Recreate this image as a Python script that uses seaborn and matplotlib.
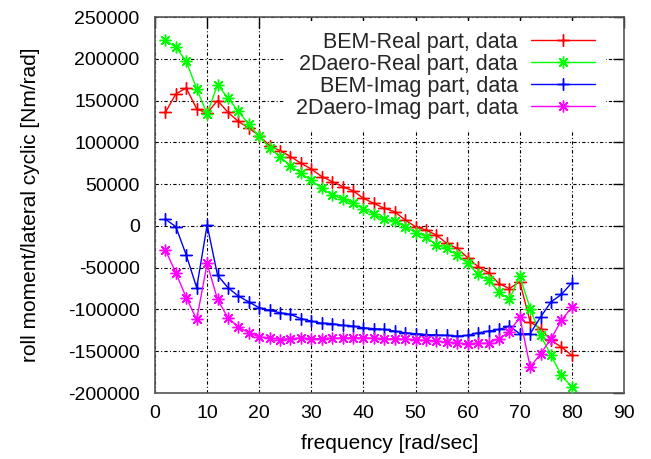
import matplotlib
matplotlib.use("Agg")
import matplotlib.pyplot as plt
import seaborn as sns
import pandas as pd

freq = [2, 4, 6, 8, 10, 12, 14, 16, 18, 20, 22, 24, 26, 28, 30, 32, 34, 36, 38, 40,
        42, 44, 46, 48, 50, 52, 54, 56, 58, 60, 62, 64, 66, 68, 70, 72, 74, 76, 78, 80]

bem_real = [136000, 158000, 165000, 140000, 135000, 150000, 136000, 125000, 117000, 108000,
            96000, 90000, 83000, 75000, 68000, 59000, 53000, 47000, 42000, 33000,
            27000, 21000, 17000, 7000, -1000, -5000, -11000, -21000, -27000, -38000,
            -49000, -56000, -69000, -75000, -67000, -115000, -123000, -137000, -145000, -155000]

aero_real = [222000, 214000, 197000, 164000, 134000, 169000, 153000, 137000, 121500, 107000,
             93500, 82500, 72000, 63000, 54500, 45000, 37000, 32500, 27000, 20500,
             14000, 8000, 6000, -1000, -8000, -13000, -23000, -27000, -35000, -45000,
             -58000, -65000, -79000, -88000, -60000, -99000, -131000, -155000, -179000, -193000]

bem_imag = [8000, -1000, -35000, -74000, 1000, -59000, -74000, -84000, -91000, -98000,
            -101000, -104000, -106000, -111000, -114000, -116500, -117000, -119000, -120000, -122000,
            -123000, -124000, -126000, -128000, -129000, -130000, -130500, -131000, -132000, -131000,
            -128000, -126000, -124000, -120000, -129000, -129000, -109000, -91000, -82000, -68000]

aero_imag = [-29000, -56000, -86000, -112000, -45000, -88000, -110000, -121000, -128000, -133000,
             -134000, -136000, -135000, -134000, -135000, -135000, -134500, -134000, -134000, -134000,
             -134500, -135000, -135000, -135500, -136000, -137000, -138000, -139000, -140500, -141000,
             -140500, -140500, -135000, -127000, -109000, -169000, -153000, -135000, -113000, -97000]

labels = ["BEM-Real part, data", "2Daero-Real part, data",
          "BEM-Imag part, data", "2Daero-Imag part, data"]
series = [bem_real, aero_real, bem_imag, aero_imag]
colors = ["#ff0000", "#00ff00", "#0000ff", "#ff00ff"]
markers = [(4, 2, 0), (8, 2, 0), (4, 2, 0), (8, 2, 0)]

xticks = [0, 10, 20, 30, 40, 50, 60, 70, 80, 90]
yticks = [-200000, -150000, -100000, -50000, 0, 50000, 100000, 150000, 200000, 250000]

sns.set_theme(style="white")
plt.rcParams['font.family'] = ['Liberation Sans', 'DejaVu Sans']

fig = plt.figure(figsize=(6.51, 4.59), dpi=100)
ax = fig.add_axes([155 / 651, 1 - 393 / 459, (624 - 155) / 651, (393 - 17) / 459])

for vals, lab, col, mk in zip(series, labels, colors, markers):
    df = pd.DataFrame({"freq": freq, "value": vals})
    sns.lineplot(data=df, x="freq", y="value", ax=ax, color=col, marker=mk,
                 markersize=8.5, markeredgewidth=1.0, markeredgecolor=col,
                 linewidth=1.0, label=lab, zorder=3)

ax.set_xlim(0, 90)
ax.set_ylim(-200000, 250000)
ax.set_xticks(xticks)
ax.set_yticks(yticks)
ax.set_xticklabels([str(t) for t in xticks])
ax.set_yticklabels([str(t) for t in yticks])
ax.tick_params(direction="in", length=8, width=1, top=True, right=True,
               labelsize=14, pad=9, colors="black")
ax.tick_params(axis="y", pad=11)

ax.grid(True, color="black", linestyle=(0, (3, 2, 1, 2)), linewidth=0.8, zorder=0)
ax.set_axisbelow(True)
for sp in ax.spines.values():
    sp.set_color("#555555")
    sp.set_linewidth(1.2)

ax.set_xlabel("frequency [rad/sec]", fontsize=15, labelpad=8, color="black")
ax.set_ylabel("roll moment/lateral cyclic [Nm/rad]", fontsize=15, labelpad=20, color="black")

leg = ax.legend(loc="upper right", bbox_to_anchor=(1 - 18 / 469, 1.0 - 4 / 376),
                borderaxespad=0, markerfirst=False, fontsize=15.5,
                handlelength=3.0, handletextpad=0.6, labelspacing=0.05,
                frameon=True, fancybox=False, borderpad=0.5, framealpha=1.0)
leg.get_frame().set_facecolor("white")
leg.get_frame().set_edgecolor("none")
leg.set_zorder(2)

fig.savefig("out.png", dpi=100, facecolor="white")
